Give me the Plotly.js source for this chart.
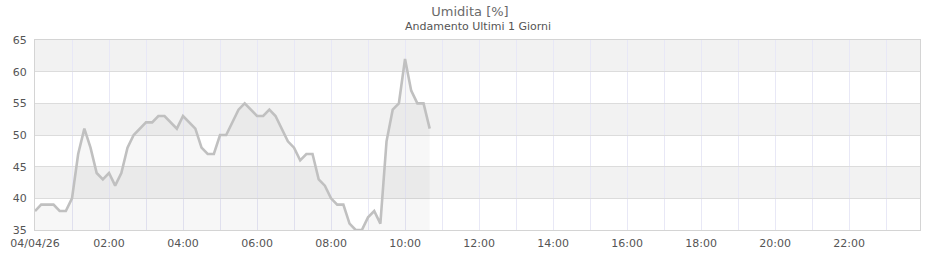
<!DOCTYPE html>
<html>
<head>
<meta charset="utf-8">
<script src="https://cdn.plot.ly/plotly-3.0.1.min.js"></script>
<style>html,body{margin:0;padding:0;background:#fff;}#chart{width:940px;height:260px;}</style>
</head>
<body>
<div id="chart"></div>
<script>
const day = "2026-04-04";
const times = [
  "00:00","00:10","00:20","00:30","00:40","00:50",
  "01:00","01:10","01:20","01:30","01:40","01:50",
  "02:00","02:10","02:20","02:30","02:40","02:50",
  "03:00","03:10","03:20","03:30","03:40","03:50",
  "04:00","04:10","04:20","04:30","04:40","04:50",
  "05:00","05:10","05:20","05:30","05:40","05:50",
  "06:00","06:10","06:20","06:30","06:40","06:50",
  "07:00","07:10","07:20","07:30","07:40","07:50",
  "08:00","08:10","08:20","08:30","08:40","08:50",
  "09:00","09:10","09:20","09:30","09:40","09:50",
  "10:00","10:10","10:20","10:30","10:40"
];
const humidity = [
  38,39,39,39,38,38,
  40,47,51,48,44,43,
  44,42,44,48,50,51,
  52,52,53,53,52,51,
  53,52,51,48,47,47,
  50,50,52,54,55,54,
  53,53,54,53,51,49,
  48,46,47,47,43,42,
  40,39,39,36,35,35,
  37,38,36,49,54,55,
  62,57,55,55,51
];
const hourTicks = ["00:00","01:00","02:00","03:00","04:00","05:00","06:00","07:00","08:00","09:00","10:00","11:00",
  "12:00","13:00","14:00","15:00","16:00","17:00","18:00","19:00","20:00","21:00","22:00","23:00"];
const hourLabels = ["04/04/26","","02:00","","04:00","","06:00","","08:00","","10:00","",
  "12:00","","14:00","","16:00","","18:00","","20:00","","22:00",""];
const bands = [[40,45],[50,55],[60,65]];
const yRange = [35,65];
const xEnd = "23:55";

const x = times.map(t => day + " " + t);

const shapes = bands.map(b => ({
  type: "rect", xref: "paper", yref: "y", x0: 0, x1: 1, y0: b[0], y1: b[1],
  fillcolor: "#f2f2f2", line: {width: 0}, layer: "below"
}));

const trace = {
  x: x, y: humidity, type: "scatter", mode: "lines",
  line: {color: "#c0c0c0", width: 2.6, shape: "linear"},
  fill: "tozeroy", fillcolor: "rgba(0,0,0,0.03)",
  hoverinfo: "x+y"
};

const layout = {
  width: 940, height: 260,
  margin: {l: 35, r: 20, t: 40, b: 30},
  paper_bgcolor: "#ffffff", plot_bgcolor: "rgba(0,0,0,0)",
  font: {family: "DejaVu Sans", size: 11, color: "#555"},
  showlegend: false,
  title: {text: "Umidita [%]", x: 0.5, xanchor: "center", y: 0.955, yanchor: "middle",
    font: {family: "DejaVu Sans", size: 13, color: "#6a6a6a"}},
  annotations: [{
    text: "Andamento Ultimi 1 Giorni", xref: "paper", yref: "paper", x: 0.5, y: 1,
    xanchor: "center", yanchor: "middle", yshift: 14, showarrow: false,
    font: {family: "DejaVu Sans", size: 11, color: "#555"}
  }],
  shapes: shapes,
  xaxis: {
    type: "date", range: [day + " 00:00", day + " " + xEnd],
    tickmode: "array", tickvals: hourTicks.map(t => day + " " + t), ticktext: hourLabels,
    showgrid: true, gridcolor: "#e8e8f6", gridwidth: 1,
    showline: true, linecolor: "#d4d4d4", linewidth: 1, mirror: true,
    zeroline: false, ticks: "", ticklen: 0, ticklabelstandoff: 3,
    tickfont: {family: "DejaVu Sans", size: 11, color: "#555"}
  },
  yaxis: {
    range: yRange, dtick: 5, tick0: 35,
    showgrid: true, gridcolor: "#dcdcdc", gridwidth: 1,
    showline: true, linecolor: "#d4d4d4", linewidth: 1, mirror: true,
    zeroline: false, ticks: "", ticklen: 0, ticklabelstandoff: 5,
    tickfont: {family: "DejaVu Sans", size: 11, color: "#555"}
  }
};

Plotly.newPlot("chart", [trace], layout, {displayModeBar: false, staticPlot: true});
</script>
</body>
</html>
